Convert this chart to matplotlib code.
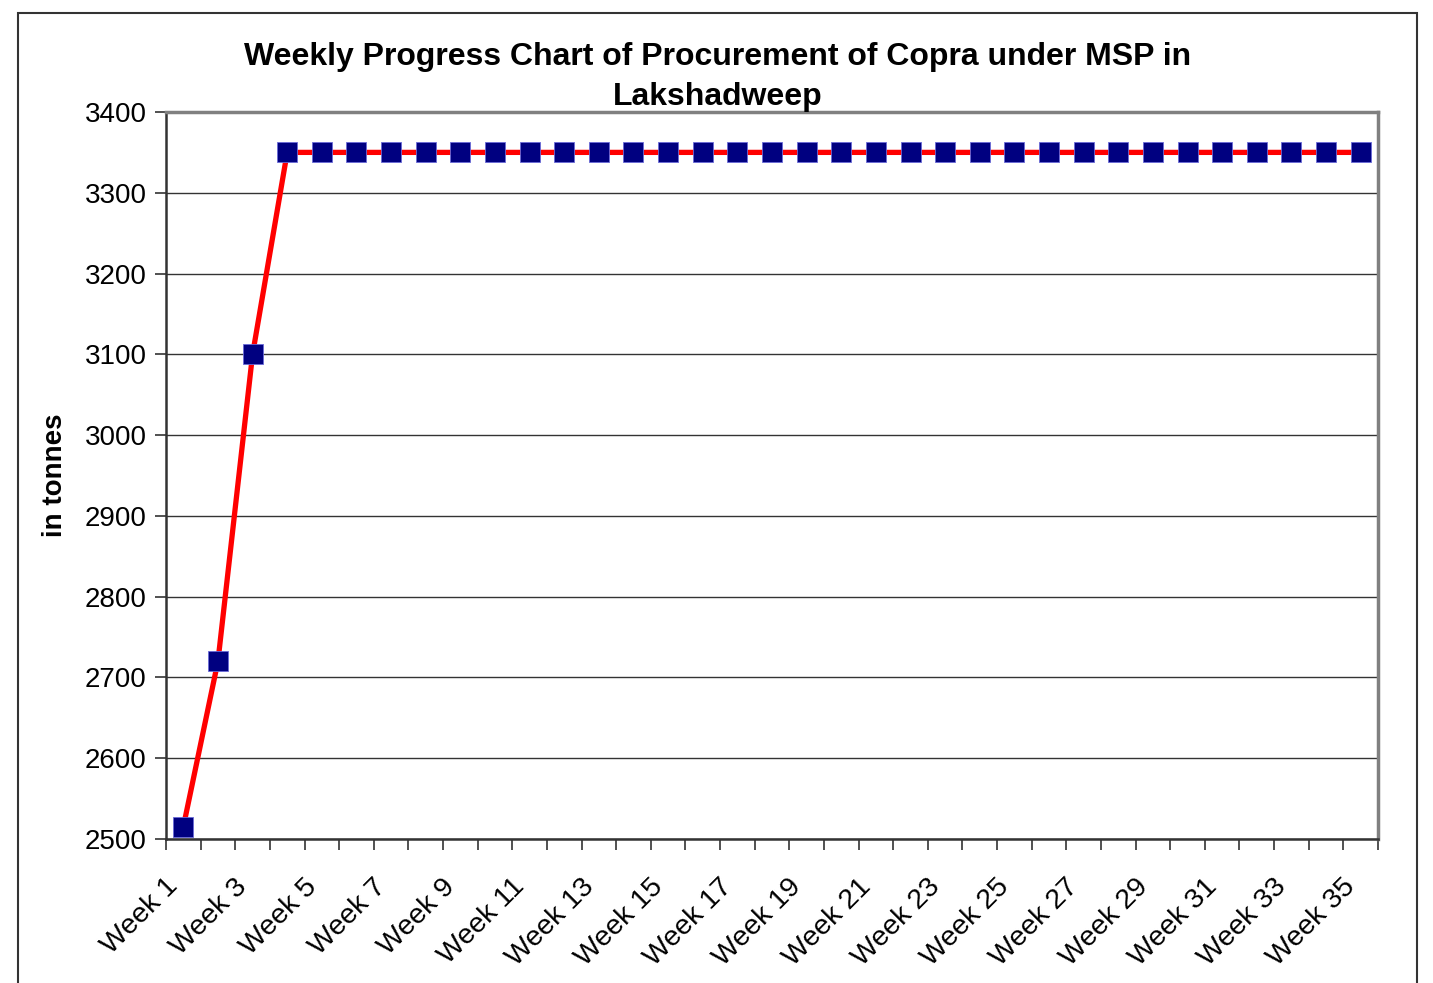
import matplotlib
matplotlib.use("Agg")
import matplotlib.pyplot as plt
from matplotlib.patches import Rectangle
import numpy as np

plt.rcParams['font.family'] = ['Liberation Sans', 'DejaVu Sans']

weeks = [f"Week {i}" for i in range(1, 36)]
values = [2515, 2720, 3100] + [3350] * 32
y_ticks = [2500, 2600, 2700, 2800, 2900, 3000, 3100, 3200, 3300, 3400]
title = "Weekly Progress Chart of Procurement of Copra under MSP in\nLakshadweep"
ylabel = "in tonnes"

W, H = 1433, 983
fig = plt.figure(figsize=(W / 100, H / 100), dpi=100)
fig.patches.append(Rectangle((18 / W, -0.02), 1399 / W, 1 - 13 / H + 0.02,
                             transform=fig.transFigure, fill=False,
                             edgecolor='#333333', linewidth=1.5))

ax = fig.add_axes([166 / W, 1 - 839 / H, (1378 - 166) / W, (839 - 112) / H])
x = np.arange(len(weeks))
ax.plot(x, values, color='#ff0000', linewidth=3.8, zorder=3)
ax.plot(x, values, linestyle='none', marker='s', markersize=14.5,
        markerfacecolor='#000080', markeredgecolor='#6a6ad8',
        markeredgewidth=0.6, zorder=4)

ax.set_xlim(-0.5, len(weeks) - 0.5)
ax.set_ylim(y_ticks[0], y_ticks[-1])
ax.set_yticks(y_ticks)
ax.yaxis.grid(True, color='#333333', linewidth=1.0)
ax.set_axisbelow(True)

ax.set_xticks(np.arange(-0.5, len(weeks), 1.0))
ax.set_xticklabels([])
ax.set_xticks(x[::2], minor=True)
ax.set_xticklabels(weeks[::2], minor=True, rotation=45, ha='right',
                   va='bottom', rotation_mode='anchor', fontsize=20.5)
ax.tick_params(axis='x', which='major', direction='out', length=8,
               width=1.2, color='#333333')
ax.tick_params(axis='x', which='minor', length=0, pad=38)
ax.tick_params(axis='y', direction='out', length=8, width=1.2,
               color='#333333', labelsize=20, pad=6)

for s in ['left', 'bottom']:
    ax.spines[s].set_color('#333333')
    ax.spines[s].set_linewidth(1.8)
for s in ['top', 'right']:
    ax.spines[s].set_color('#808080')
    ax.spines[s].set_linewidth(2.5)

ax.set_ylabel(ylabel, fontsize=20, fontweight='bold', labelpad=12)
fig.text(718 / W, 1 - 77 / H, title, ha='center', va='center',
         fontsize=23, fontweight='bold', linespacing=1.4)

fig.savefig("out.png", dpi=100)
